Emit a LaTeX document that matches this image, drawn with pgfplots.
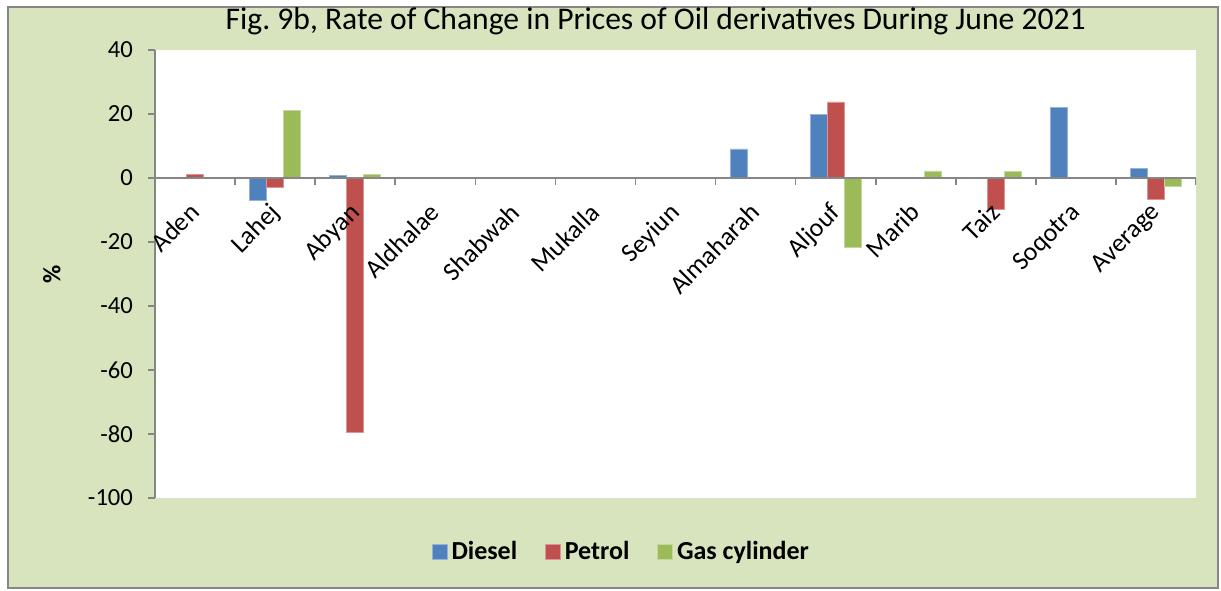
\documentclass[border=0pt]{standalone}
\usepackage{fontspec}
\setmainfont{Carlito}
\usepackage{pgfplots}
\pgfplotsset{compat=1.18}
\definecolor{bg}{HTML}{D7E4BD}
\definecolor{diesel}{HTML}{4F81BD}
\definecolor{petrol}{HTML}{C0504D}
\definecolor{gas}{HTML}{9BBB59}
\definecolor{axgray}{HTML}{868686}
\frenchspacing
\begin{document}
\begin{tikzpicture}[x=1pt,y=1pt]
\path[use as bounding box] (0,0) rectangle (610.5,295);
\fill[white] (0,0) rectangle (610.5,295);
\filldraw[fill=bg, draw=axgray, line width=0.8pt] (4,1) rectangle (609,291.5);
\begin{axis}[
  at={(77.5pt,46pt)}, anchor=south west,
  scale only axis, width=520.5pt, height=224pt,
  xmin=-0.5, xmax=12.5, ymin=-100, ymax=40,
  axis background/.style={fill=white},
  axis on top,
  axis y line*=left, axis x line*=middle,
  axis line style={axgray, line width=0.8pt},
  ybar=0pt, bar width=8.5pt,
  /pgf/number format/assume math mode=true,
  ytick={-100,-80,...,40},
  yticklabel style={font=\fontsize{12.3}{14}\selectfont, text=black, xshift=-4pt},
  y tick style={axgray, line width=0.8pt},
  tick align=outside, major tick length=3.5pt,
  xtick={0,...,12},
  xticklabels={Aden,Lahej,Abyan,Aldhalae,Shabwah,Mukalla,Seyiun,Almaharah,Aljouf,Marib,Taiz,Soqotra,Average},
  x tick style={draw=none},
  xticklabel style={xshift=-3.5pt, yshift=-8pt, rotate=45, anchor=north east, font=\fontsize{13}{15}\selectfont, text=black, inner sep=0pt},
  ylabel={\%},
  ylabel style={at={(axis description cs:-0.099,0.5)}, anchor=center, font=\bfseries\fontsize{12.5}{14}\selectfont},
  title={Fig. 9b, Rate of Change in Prices of Oil derivatives During June 2021},
  title style={at={(axis description cs:0.481,1)}, anchor=center, yshift=8.5pt, font=\fontsize{15.8}{18}\selectfont},
  legend columns=3,
  legend style={at={(axis description cs:0.449,-0.12)}, anchor=center, draw=none, fill=none,
    font=\bfseries\fontsize{13}{15}\selectfont,
    /tikz/every even column/.append style={column sep=12pt}},
  legend image code/.code={\fill[#1] (0pt,-3.75pt) rectangle (7.5pt,3.75pt);},
]
\addplot[fill=diesel, draw=diesel!60!white, line width=0.3pt] coordinates {(1,-7.1) (2,0.8) (7,9.1) (8,19.8) (11,22.1) (12,2.9)};
\addplot[fill=petrol, draw=petrol!60!white, line width=0.3pt] coordinates {(0,1.2) (1,-2.9) (2,-79.4) (8,23.8) (10,-9.8) (12,-6.7)};
\addplot[fill=gas, draw=gas!60!white, line width=0.3pt] coordinates {(1,21.2) (2,1.1) (8,-21.5) (9,2.2) (10,2.1) (12,-2.5)};
\legend{Diesel,Petrol,Gas cylinder}
\pgfplotsinvokeforeach{0.5,1.5,...,12.5}{\draw[axgray, line width=0.8pt] (axis cs:#1,0) -- ([yshift=-3.5pt]axis cs:#1,0);}
\end{axis}
\end{tikzpicture}
\end{document}
